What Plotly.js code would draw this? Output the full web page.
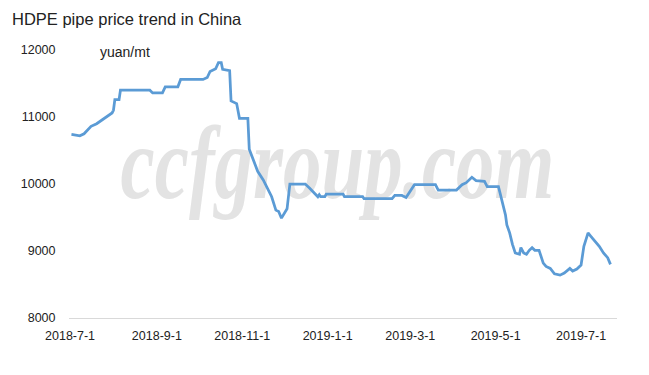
<!DOCTYPE html>
<html>
<head>
<meta charset="utf-8">
<script src="https://cdn.plot.ly/plotly-3.0.1.min.js"></script>
<style>
  html, body { margin: 0; padding: 0; background: #fff; }
  #chart { width: 649px; height: 375px; }
</style>
</head>
<body>
<div id="chart"></div>
<script>
const dates = [
  '2018-07-02','2018-07-05','2018-07-08','2018-07-11','2018-07-16','2018-07-20','2018-07-24','2018-07-27','2018-07-31',
  '2018-08-01','2018-08-02','2018-08-05','2018-08-06','2018-08-27','2018-08-29','2018-09-05','2018-09-07','2018-09-16',
  '2018-09-18','2018-10-04','2018-10-07','2018-10-09','2018-10-13','2018-10-15','2018-10-17','2018-10-18','2018-10-23',
  '2018-10-24','2018-10-28','2018-10-30','2018-11-05','2018-11-06','2018-11-12','2018-11-16','2018-11-22','2018-11-25',
  '2018-11-27','2018-11-29','2018-12-03','2018-12-05','2018-12-16','2018-12-19','2018-12-23','2018-12-25','2018-12-26',
  '2018-12-27','2018-12-30','2018-12-31','2019-01-12','2019-01-13','2019-01-26','2019-01-27','2019-02-16','2019-02-18',
  '2019-02-23','2019-02-26','2019-03-04','2019-03-19','2019-03-21','2019-04-03','2019-04-07','2019-04-10','2019-04-14',
  '2019-04-17','2019-04-23','2019-04-25','2019-05-03','2019-05-05','2019-05-08','2019-05-09','2019-05-11','2019-05-13',
  '2019-05-15','2019-05-18','2019-05-19','2019-05-21','2019-05-23','2019-05-25','2019-05-27','2019-05-29','2019-06-01',
  '2019-06-04','2019-06-06','2019-06-09','2019-06-12','2019-06-16','2019-06-19','2019-06-23','2019-06-25','2019-06-28',
  '2019-07-01','2019-07-03','2019-07-06','2019-07-08','2019-07-11','2019-07-14','2019-07-17','2019-07-20','2019-07-22'
];
const prices = [
  10740,10730,10720,10750,10860,10900,10960,11010,11060,
  11100,11260,11260,11400,11400,11360,11360,11450,11450,
  11560,11560,11590,11680,11720,11810,11810,11710,11690,
  11240,11200,10980,10980,10520,10190,10060,9810,9610,
  9590,9490,9630,10000,10000,9940,9850,9810,9840,
  9810,9810,9850,9850,9810,9810,9780,9780,9830,
  9830,9800,9990,9990,9910,9910,9990,10020,10100,
  10050,10040,9960,9960,9790,9540,9390,9270,9100,
  8970,8950,9050,8970,8950,9010,9050,9010,9010,
  8820,8770,8740,8660,8640,8670,8740,8700,8730,
  8790,9070,9270,9220,9140,9070,8970,8900,8800
];
const xTickVals = ['2018-07-01','2018-09-01','2018-11-01','2019-01-01','2019-03-01','2019-05-01','2019-07-01'];
const xTickText = ['2018-7-1','2018-9-1','2018-11-1','2019-1-1','2019-3-1','2019-5-1','2019-7-1'];
const yTickVals = [8000, 9000, 10000, 11000, 12000];
const chartTitle = 'HDPE pipe price trend in China';
const unitLabel = 'yuan/mt';
const watermark = 'ccfgroup.com';

const FONT = 'Liberation Sans, Arial, sans-serif';

const trace = {
  type: 'scatter',
  mode: 'lines',
  x: dates,
  y: prices,
  line: { color: '#5B9BD5', width: 2.75, shape: 'linear' },
  hoverinfo: 'skip',
  showlegend: false
};

const layout = {
  width: 649,
  height: 375,
  margin: { l: 69, r: 32, t: 50, b: 57 },
  paper_bgcolor: '#ffffff',
  plot_bgcolor: 'rgba(0,0,0,0)',
  font: { family: FONT, color: '#222222', size: 12.5 },
  title: {
    text: chartTitle,
    font: { family: FONT, size: 16.5, color: '#222222' },
    xref: 'container', x: 12 / 649, xanchor: 'left',
    yref: 'container', y: 1 - 19 / 375, yanchor: 'middle'
  },
  xaxis: {
    type: 'date',
    range: ['2018-06-30 06:00', '2019-07-26 16:00'],
    tickmode: 'array',
    tickvals: xTickVals,
    ticktext: xTickText,
    showgrid: false,
    zeroline: false,
    showline: true,
    linecolor: '#d9d9d9',
    linewidth: 1,
    ticks: 'outside',
    ticklen: 6,
    tickcolor: 'rgba(0,0,0,0)',
    tickfont: { family: FONT, size: 12.5, color: '#222222' },
    fixedrange: true
  },
  yaxis: {
    range: [8000, 12000],
    tickmode: 'array',
    tickvals: yTickVals,
    ticktext: yTickVals.map(String),
    showgrid: false,
    zeroline: false,
    showline: false,
    ticks: 'outside',
    ticklen: 10,
    tickcolor: 'rgba(0,0,0,0)',
    tickfont: { family: FONT, size: 12.5, color: '#222222' },
    fixedrange: true
  },
  shapes: [{
    type: 'rect',
    xref: 'paper', yref: 'paper',
    x0: 0.314, x1: 0.666, y0: 0.537, y1: 0.709,
    line: { width: 0, color: 'rgba(0,0,0,0)' },
    fillcolor: 'rgba(0,0,0,0)',
    layer: 'below',
    label: {
      text: watermark,
      textposition: 'middle center',
      font: { family: 'Liberation Serif, Times New Roman, serif', size: 104, color: '#e3e3e3', style: 'italic', weight: 'bold' }
    }
  }],
  annotations: [{
    text: unitLabel,
    xref: 'paper', yref: 'paper',
    x: (98 - 69) / 548, xanchor: 'left',
    y: (318 - 52) / 268, yanchor: 'middle',
    showarrow: false,
    font: { family: FONT, size: 14, color: '#222222' }
  }]
};

Plotly.newPlot('chart', [trace], layout, { displayModeBar: false, staticPlot: true }).then(function (gd) {
  // condense the watermark text horizontally (keeps it as real text)
  const labels = gd.querySelectorAll('.shapelayer text, .layer-below text');
  labels.forEach(function (t) {
    if (t.textContent === watermark) {
      t.style.transformBox = 'fill-box';
      t.style.transformOrigin = 'center';
      t.style.transform = 'scaleX(0.74)';
    }
  });
});
</script>
</body>
</html>
